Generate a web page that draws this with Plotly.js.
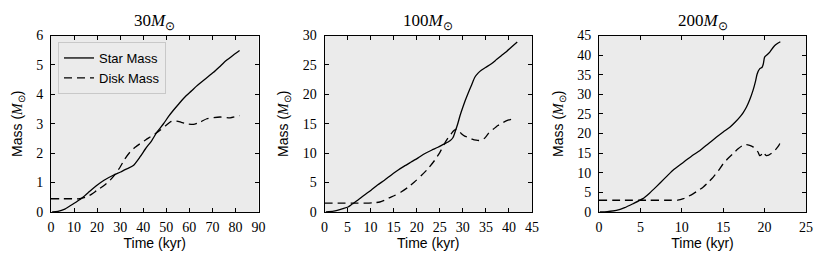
<!DOCTYPE html>
<html>
<head>
<meta charset="utf-8">
<script src="https://cdn.plot.ly/plotly-3.0.1.min.js"></script>
<style>html,body{margin:0;padding:0;background:#fff;}#chart{width:830px;height:277px;}</style>
</head>
<body>
<div id="chart"></div>
<script>
// Panel 1: 30 Msun
const t30Star = [0.5, 3, 6, 9.7, 13.3, 16, 19.8, 23, 27, 30.2, 33, 35.7, 38.6, 41, 43.7, 46, 48.8, 51, 53, 55.5, 58, 61, 63, 66.5, 70.5, 73, 76, 79, 81.8];
const m30Star = [0, 0.02, 0.1, 0.28, 0.47, 0.65, 0.9, 1.08, 1.25, 1.36, 1.47, 1.58, 1.87, 2.15, 2.43, 2.72, 3.0, 3.25, 3.45, 3.68, 3.9, 4.12, 4.27, 4.5, 4.75, 4.93, 5.15, 5.33, 5.49];
const t30Disk = [0, 5, 10, 12.5, 15, 17.5, 20, 23, 25.6, 28, 30, 32, 34.3, 36.5, 38.6, 41, 43, 45, 47.3, 49.5, 51.7, 53, 54.6, 56.5, 58.9, 61.8, 64.5, 67.6, 70.5, 73.4, 77.7, 81.8];
const m30Disk = [0.45, 0.45, 0.45, 0.45, 0.5, 0.6, 0.74, 0.9, 1.08, 1.3, 1.53, 1.8, 2.04, 2.2, 2.32, 2.45, 2.55, 2.65, 2.78, 2.92, 3.06, 3.1, 3.09, 3.05, 3.0, 2.98, 3.05, 3.17, 3.21, 3.23, 3.2, 3.28];

// Panel 2: 100 Msun
const t100Star = [0.3, 2, 4, 5.1, 6, 7.2, 8.6, 10.1, 11.5, 13, 14.5, 15.9, 17.3, 18.8, 20.3, 21.7, 23.2, 24.6, 25.8, 26.8, 27.5, 27.9, 28.4, 28.9, 29.4, 30, 30.5, 31.1, 31.9, 32.6, 33.3, 34, 35, 36.2, 37.3, 38.4, 39.5, 40.5, 41.8];
const m100Star = [0, 0.15, 0.57, 0.85, 1.35, 2.0, 2.85, 3.7, 4.6, 5.4, 6.3, 7.1, 7.8, 8.5, 9.2, 9.9, 10.5, 11.0, 11.5, 11.9, 12.3, 12.7, 13.8, 15.0, 16.4, 17.8, 18.9, 20.1, 21.6, 22.9, 23.6, 24.1, 24.6, 25.2, 25.9, 26.6, 27.3, 28.0, 28.9];
const t100Disk = [0, 3, 6, 9, 10.5, 12, 13, 14, 15.2, 16.6, 18.1, 19.5, 21, 22.5, 23.9, 25, 26, 26.8, 27.5, 28, 28.6, 29.2, 29.7, 30.4, 31.1, 32, 32.9, 33.5, 34, 34.8, 35.5, 36.5, 37.6, 38.7, 39.8, 40.7, 41.5];
const m100Disk = [1.5, 1.5, 1.5, 1.5, 1.55, 1.7, 2.0, 2.4, 2.8, 3.4, 4.2, 5.1, 6.2, 7.4, 8.8, 10.1, 11.6, 12.6, 13.3, 13.8, 14.1, 13.8, 13.3, 12.9, 12.7, 12.4, 12.2, 12.15, 12.2, 12.6, 13.3, 14.0, 14.7, 15.2, 15.6, 15.8, 15.8];

// Panel 3: 200 Msun
const t200Star = [0.1, 1, 2.1, 3.1, 4.1, 5.3, 6.1, 6.9, 7.9, 8.9, 10.2, 11.2, 12.2, 13.2, 14.2, 15, 15.8, 16.4, 17, 17.4, 17.8, 18.2, 18.6, 18.9, 19.1, 19.4, 19.7, 19.85, 20, 20.3, 20.6, 20.9, 21.2, 21.5, 21.9];
const m200Star = [0, 0.1, 0.4, 1.1, 2.1, 3.4, 4.8, 6.4, 8.5, 10.6, 12.7, 14.3, 15.7, 17.4, 19.1, 20.4, 21.6, 22.8, 24.2, 25.3, 26.7, 28.6, 31.0, 33.3, 35.2, 36.5, 36.9, 37.8, 39.5, 40.1, 40.7, 41.6, 42.4, 42.9, 43.4];
const t200Disk = [0, 3, 6, 8.5, 9.5, 10.2, 10.8, 11.4, 12, 12.6, 13.2, 13.8, 14.4, 15, 15.6, 16.2, 16.8, 17.3, 17.8, 18.2, 18.6, 18.9, 19.2, 19.4, 19.6, 19.8, 20, 20.2, 20.5, 20.8, 21.1, 21.4, 21.7, 21.9];
const m200Disk = [3.0, 3.0, 3.0, 3.0, 3.0, 3.4, 4.0, 4.7, 5.5, 6.4, 7.6, 8.9, 10.5, 12.3, 13.7, 14.9, 16.1, 16.9, 17.2, 17.0, 16.6, 16.0, 15.3, 14.4, 14.6, 15.3, 14.8, 14.4, 14.5, 14.9, 15.4, 16.1, 16.9, 17.8];

const panelTitles = ['30', '100', '200'];
const xRanges = [[0, 90], [0, 45], [0, 25]];
const xDtick = [10, 5, 5];
const yRanges = [[0, 6], [0, 30], [0, 45]];
const yDtick = [1, 5, 5];

const series = [
  [t30Star, m30Star, t30Disk, m30Disk],
  [t100Star, m100Star, t100Disk, m100Disk],
  [t200Star, m200Star, t200Disk, m200Disk]
];

const W = 830, H = 277;
const domainsX = [[51 / W, 258.5 / W], [324.5 / W, 532 / W], [599 / W, 806 / W]];
const domainY = [1 - 212 / H, 1 - 35.5 / H];

const serif = 'Liberation Serif';
const sans = 'Liberation Sans';

const traces = [];
series.forEach((s, i) => {
  const ax = i === 0 ? '' : String(i + 1);
  traces.push({
    x: s[0], y: s[1], type: 'scatter', mode: 'lines', name: 'Star Mass',
    line: {color: '#000', width: 1.3, shape: 'spline', smoothing: 0.6},
    xaxis: 'x' + ax, yaxis: 'y' + ax, showlegend: i === 0
  });
  traces.push({
    x: s[2], y: s[3], type: 'scatter', mode: 'lines', name: 'Disk Mass',
    line: {color: '#000', width: 1.3, dash: '8px,5px', shape: 'spline', smoothing: 0.6},
    xaxis: 'x' + ax, yaxis: 'y' + ax, showlegend: i === 0
  });
});

const layout = {
  width: W, height: H,
  margin: {l: 0, r: 0, t: 0, b: 0},
  paper_bgcolor: '#ffffff',
  plot_bgcolor: '#ebebeb',
  showlegend: true,
  legend: {
    x: 58 / W, y: 1 - 42 / H, xanchor: 'left', yanchor: 'top',
    bgcolor: '#ebebeb', bordercolor: '#c8c8c8', borderwidth: 1,
    font: {family: sans, size: 13, color: '#000'},
    tracegroupgap: 0
  },
  annotations: [],
  font: {family: serif, size: 14, color: '#000'}
};

for (let i = 0; i < 3; i++) {
  const ax = i === 0 ? '' : String(i + 1);
  layout['xaxis' + ax] = {
    domain: domainsX[i], anchor: 'y' + ax, range: xRanges[i], dtick: xDtick[i], tick0: 0,
    ticks: 'inside', ticklen: 4, tickwidth: 1, tickcolor: '#000',
    mirror: 'ticks', showline: true, linecolor: '#000', linewidth: 1,
    showgrid: false, zeroline: false, ticklabelstandoff: 2,
    tickfont: {family: serif, size: 14, color: '#000'},
    title: {text: 'Time (kyr)', font: {family: sans, size: 14, color: '#000'}, standoff: 3}
  };
  layout['yaxis' + ax] = {
    domain: domainY, anchor: 'x' + ax, range: yRanges[i], dtick: yDtick[i], tick0: 0,
    ticks: 'inside', ticklen: 4, tickwidth: 1, tickcolor: '#000',
    mirror: 'ticks', showline: true, linecolor: '#000', linewidth: 1,
    showgrid: false, zeroline: false, ticklabelstandoff: 4,
    tickfont: {family: serif, size: 14, color: '#000'},
    title: {
      text: 'Mass (<span style="font-family:Liberation Serif;font-style:italic">M</span><sub>⊙</sub>)',
      font: {family: sans, size: 14, color: '#000'}, standoff: 10
    }
  };
  layout.annotations.push({
    xref: 'paper', yref: 'paper',
    x: (domainsX[i][0] + domainsX[i][1]) / 2, y: 1 - 22 / H,
    xanchor: 'center', yanchor: 'middle', showarrow: false,
    text: panelTitles[i] + '<i>M</i><sub>⊙</sub>',
    font: {family: serif, size: 17, color: '#000'}
  });
}

Plotly.newPlot('chart', traces, layout, {displayModeBar: false, staticPlot: true});
</script>
</body>
</html>
